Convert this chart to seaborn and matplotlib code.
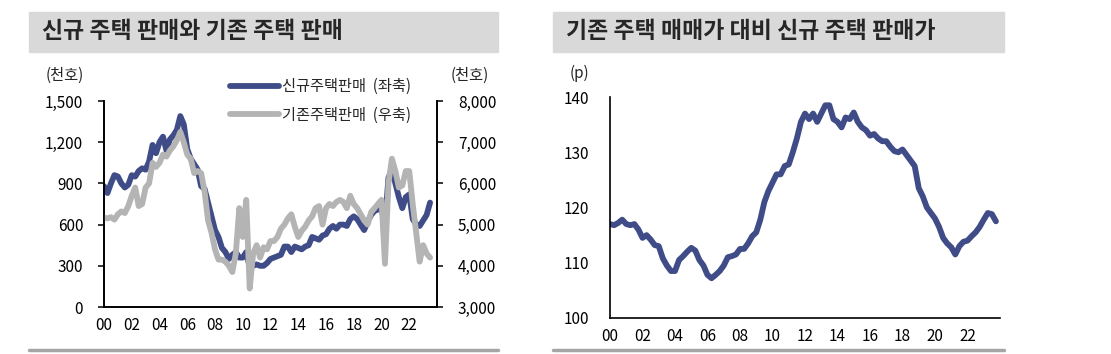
import numpy as np
import matplotlib
matplotlib.use("Agg")
import matplotlib.pyplot as plt
from matplotlib.patches import Rectangle
from matplotlib.lines import Line2D
import seaborn as sns

sns.set_style("white")
plt.rcParams["font.family"] = ["Noto Sans CJK KR", "DejaVu Sans"]

# quarterly values, 2000 Q1 onwards
new_sales = [  # 천호, left axis
    880, 830, 900, 960,
    950, 900, 870, 890,
    960, 950, 990, 1010,
    1000, 1060, 1180, 1120,
    1200, 1240, 1140, 1220,
    1250, 1290, 1390, 1330,
    1150, 1080, 1040, 1000,
    880, 860, 760, 660,
    560, 510, 430, 400,
    350, 380, 400, 360,
    360, 400, 290, 300,
    310, 300, 300, 320,
    350, 360, 370, 380,
    440, 440, 400, 440,
    430, 420, 440, 450,
    510, 500, 490, 520,
    530, 570, 590, 570,
    600, 600, 590, 640,
    660, 640, 600, 560,
    620, 670, 700, 710,
    720, 600, 940, 1000,
    900, 800, 720, 800,
    820, 640, 600, 590,
    630, 670, 760,
]
existing_sales = [  # 천호, right axis
    5170, 5150, 5180, 5120,
    5250, 5320, 5280, 5450,
    5700, 5900, 5450, 5500,
    5900, 6000, 6500, 6400,
    6500, 6700, 6650, 6800,
    6900, 7050, 7250, 7000,
    6700, 6600, 6250, 6300,
    6250, 5800, 5100, 4800,
    4400, 4150, 4150, 4100,
    4000, 3850, 4300, 5400,
    4700, 5600, 3450, 4300,
    4500, 4200, 4450, 4400,
    4600, 4600, 4700, 4900,
    5000, 5150, 5250, 4950,
    4700, 4850, 4950, 5100,
    5200, 5400, 5450, 5000,
    5400, 5500, 5450, 5550,
    5600, 5550, 5400, 5700,
    5500, 5400, 5250, 5100,
    5000, 5300, 5400, 5500,
    5600, 4050, 6000, 6600,
    6300, 5900, 5950, 6300,
    6300, 5500, 4800, 4100,
    4500, 4300, 4200,
]
price_ratio = [  # p
    117.0, 116.8, 117.2, 117.8,
    117.0, 116.8, 117.0, 116.0,
    114.5, 115.0, 114.2, 113.2,
    113.0, 110.8, 109.5, 108.5,
    108.5, 110.5, 111.2, 112.0,
    112.7, 112.2, 110.5, 109.5,
    107.8, 107.2, 107.8, 108.5,
    109.5, 111.0, 111.2, 111.5,
    112.5, 112.5, 113.5, 114.8,
    115.5, 117.8, 121.0, 123.0,
    124.5, 126.0, 126.0, 127.5,
    127.8, 130.0, 132.5, 135.5,
    137.0, 136.0, 137.0, 135.5,
    137.0, 138.5, 138.5, 136.0,
    135.5, 134.5, 136.3, 136.0,
    137.2, 135.5, 134.5, 134.0,
    133.0, 133.3, 132.5, 132.0,
    132.0, 131.0, 130.2, 130.0,
    130.5, 129.5, 128.5, 127.5,
    123.5, 122.0, 120.0, 119.0,
    118.0, 116.5, 114.5, 113.5,
    112.8, 111.5, 113.0, 113.8,
    114.0, 114.8, 115.5, 116.5,
    117.8, 119.0, 118.8, 117.5,
]
year_ticks = list(range(2000, 2025, 2))
year_labels = ["00", "02", "04", "06", "08", "10", "12", "14", "16", "18", "20", "22", ""]

BLUE = "#3f4c87"
GRAY = "#b4b4b4"
LW = 4.2
W, H = 1111, 354


def fx(px):
    return px / W


def fy(py):
    return 1 - py / H


def quarters(values):
    return 2000 + np.arange(len(values)) / 4


def style_axis(ax):
    for side in ["left", "bottom", "right", "top"]:
        ax.spines[side].set_color("black")
        ax.spines[side].set_linewidth(1.2)
    ax.tick_params(direction="out", length=4, width=1.1, labelsize=11, pad=3, colors="black")
    ax.set_xlim(2000, 2024)
    ax.set_xticks(year_ticks)
    ax.set_xticklabels(year_labels)
    ax.set_xlabel("")
    ax.set_ylabel("")


fig = plt.figure(figsize=(W / 100, H / 100), dpi=100)

# title bands and bottom rules
for x0, x1, title in [(29, 498, "신규 주택 판매와 기존 주택 판매"),
                      (553, 1004, "기존 주택 매매가 대비 신규 주택 판매가")]:
    fig.patches.append(Rectangle((fx(x0), fy(52)), fx(x1 - x0), (52 - 12) / H,
                                 transform=fig.transFigure, color="#d9d9d9", zorder=0))
    fig.text(fx(x0 + 13), fy(32), title, fontsize=16.5, fontweight="bold", va="center", ha="left")
    fig.add_artist(Line2D([fx(x0), fx(x1)], [fy(350), fy(350)], color="#a6a6a6", lw=2.5))

# left panel
ax1 = fig.add_axes([fx(104), fy(307), fx(437 - 104), (307 - 101) / H])
sns.lineplot(x=quarters(new_sales), y=new_sales, ax=ax1, color=BLUE, lw=LW)
ax2 = ax1.twinx()
sns.lineplot(x=quarters(existing_sales), y=existing_sales, ax=ax2, color=GRAY, lw=LW)
ax1.set_ylim(0, 1500)
ax1.set_yticks(range(0, 1501, 300))
ax1.set_yticklabels([f"{v:,}" for v in range(0, 1501, 300)])
ax2.set_ylim(3000, 8000)
ax2.set_yticks(range(3000, 8001, 1000))
ax2.set_yticklabels([f"{v:,}" for v in range(3000, 8001, 1000)])
style_axis(ax1)
style_axis(ax2)
ax1.spines["top"].set_visible(False)
ax2.spines["top"].set_visible(False)
ax1.tick_params(axis="y", pad=11)
ax2.tick_params(axis="y", pad=11)

handles = [Line2D([], [], color=BLUE, lw=LW), Line2D([], [], color=GRAY, lw=LW)]
fig.legend(handles, ["신규주택판매  (좌축)", "기존주택판매  (우축)"],
           loc="upper left", bbox_to_anchor=(fx(230), fy(78)), frameon=False,
           fontsize=11, handlelength=3.2, handletextpad=0.2, labelspacing=0.75,
           borderaxespad=0, borderpad=0)

fig.text(fx(65), fy(75), "(천호)", fontsize=11, ha="center", va="center")
fig.text(fx(470), fy(75), "(천호)", fontsize=11, ha="center", va="center")

# right panel
ax3 = fig.add_axes([fx(610), fy(318), fx(1000 - 610), (318 - 97) / H])
sns.lineplot(x=quarters(price_ratio), y=price_ratio, ax=ax3, color=BLUE, lw=LW)
ax3.set_ylim(100, 140)
ax3.set_yticks(range(100, 141, 10))
style_axis(ax3)
ax3.tick_params(axis="y", pad=11)
ax3.spines["top"].set_visible(False)
ax3.spines["right"].set_visible(False)
fig.text(fx(579), fy(73), "(p)", fontsize=11, ha="center", va="center")

fig.savefig("out.png", dpi=100)
